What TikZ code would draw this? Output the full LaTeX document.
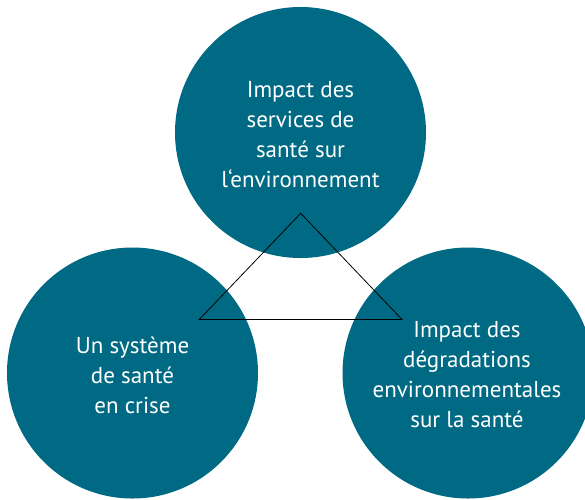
\documentclass[tikz,border=0pt]{standalone}
\usepackage{fontspec}
\setmainfont{PT Sans}
\usetikzlibrary{positioning}
\definecolor{petrole}{HTML}{006A84}
\tikzset{
  bulle/.style={circle,fill=petrole,minimum size=251pt,inner sep=0pt},
  texte/.style={text=white,align=center,font=\fontsize{23}{30}\selectfont}
}
\begin{document}
\begin{tikzpicture}[x=1pt,y=-1pt]
  \useasboundingbox (0,0) rectangle (585,499);
  % les trois cercles
  \node[bulle] (haut) at (300.5,132.5) {};
  \node[bulle] (gauche) at (132.5,373) {};
  \node[bulle] (droite) at (468,373) {};

  \node[texte] (thaut) at ([yshift=-2pt]haut.center) {Impact des\\services de\\santé sur\\l‘environnement};
  \node[texte] (tgauche) at ([yshift=-2pt]gauche.center) {Un système\\de santé\\en crise};
  \node[texte] (tdroite) at ([xshift=-1pt,yshift=-2pt]droite.center) {Impact des\\dégradations\\environnementales\\sur la santé};

  % le triangle
  \coordinate (A) at (300.7,213.3);
  \coordinate (B) at (199.3,319.5);
  \coordinate (C) at (402,319.5);
  \draw[line width=0.8pt] (A) -- (B) -- (C) -- cycle;
\end{tikzpicture}
\end{document}
